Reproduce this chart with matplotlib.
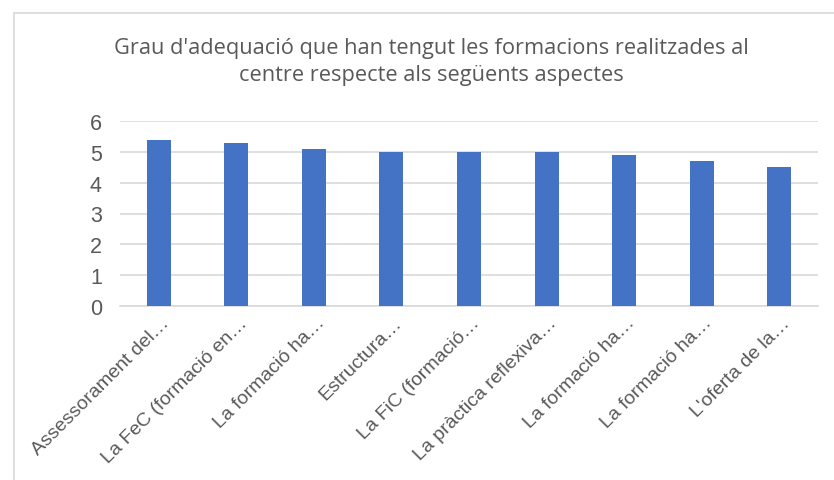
import matplotlib
matplotlib.use("Agg")
import matplotlib.pyplot as plt
from matplotlib.lines import Line2D
from matplotlib import transforms

categories = ["Assessorament del…", "La FeC (formació en…", "La formació ha…",
              "Estructura…", "La FiC (formació…", "La pràctica reflexiva…",
              "La formació ha…", "La formació ha…", "L'oferta de la…"]
values = [5.4, 5.3, 5.1, 5.0, 5.0, 5.0, 4.9, 4.7, 4.5]
yticks = [0, 1, 2, 3, 4, 5, 6]
title = "Grau d'adequació que han tengut les formacions realitzades al\ncentre respecte als següents aspectes"

W, H = 834, 481
fig = plt.figure(figsize=(W/100, H/100), dpi=100)
ax = fig.add_axes([120/W, 1-307/H, (818-120)/W, (307-122)/H])

x = list(range(len(categories)))
ax.bar(x, values, width=0.31, color="#4472C4", zorder=3)
ax.set_xlim(-0.5, len(categories)-0.5)
ax.set_ylim(0, 6)
ax.set_yticks(yticks)
ax.yaxis.grid(True, color="#d9d9d9", linewidth=1.2, zorder=0)
for s in ["top", "right", "left"]:
    ax.spines[s].set_visible(False)
ax.spines["bottom"].set_color("#d9d9d9")
ax.spines["bottom"].set_linewidth(1.2)
ax.tick_params(axis="both", length=0)
ax.tick_params(axis="y", labelsize=15.5, labelcolor="#595959", pad=13)
ax.set_yticklabels([str(t) for t in yticks], family="Liberation Sans")
ax.set_xticks(x)
offset = transforms.ScaledTranslation(8/100, -9/100, fig.dpi_scale_trans)
ax.set_xticklabels(categories, rotation=45, ha="right", va="center",
                   rotation_mode="anchor", fontsize=14, color="#595959",
                   family="Liberation Sans")
for lab in ax.get_xticklabels():
    lab.set_transform(lab.get_transform() + offset)

fig.text(431/W, 1-62/H, title, ha="center", va="center", fontsize=15.7,
         color="#595959", family="Open Sans", linespacing=1.4)

# outer chart frame
fig.add_artist(Line2D([14/W, 14/W], [0, 1-14/H], color="#d9d9d9", lw=1.2, transform=fig.transFigure))
fig.add_artist(Line2D([14/W, 1], [1-14/H, 1-14/H], color="#d9d9d9", lw=1.2, transform=fig.transFigure))

fig.savefig("out.png", dpi=100, facecolor="white")
